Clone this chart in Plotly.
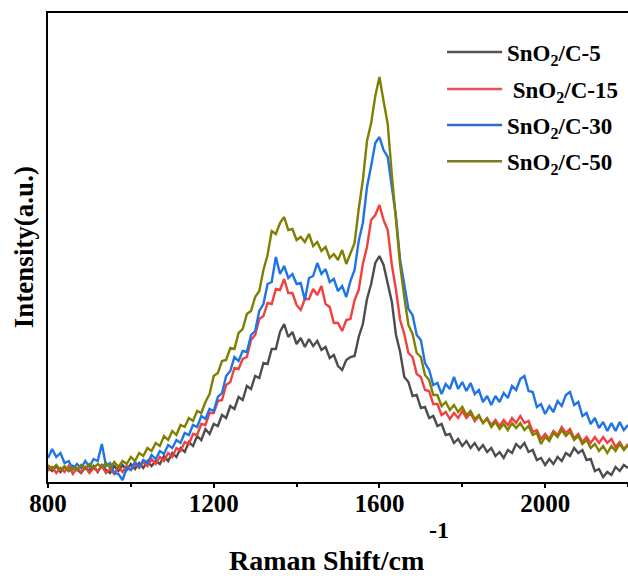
import plotly.graph_objects as go

# Raman shift (cm^-1), 800..2200 step 10
raman_shift = list(range(800, 2201, 10))

# Intensities (a.u.)
sno2_c5 = [15, 11, 16, 10, 15, 11, 16, 12, 9, 15, 11, 16, 10, 17, 12, 9, 16, 11, 17, 12,
           18, 13, 19, 14, 21, 16, 21, 18, 26, 21, 29, 25, 34, 30, 40, 36, 46, 42, 53, 48,
           58, 56, 67, 64, 76, 73, 85, 82, 96, 93, 106, 104, 119, 118, 133, 133, 150, 158, 145, 150,
           138, 144, 135, 143, 136, 141, 132, 135, 124, 127, 116, 112, 122, 125, 126, 145, 158, 183, 198, 219,
           226, 217, 197, 180, 147, 130, 105, 100, 86, 87, 74, 75, 64, 66, 56, 58, 47, 48, 39, 43,
           36, 41, 34, 39, 32, 37, 30, 34, 26, 30, 24, 32, 29, 38, 34, 39, 30, 32, 22, 24,
           17, 23, 18, 25, 21, 29, 26, 34, 29, 32, 22, 23, 11, 13, 5, 10, 7, 15, 11, 17, 14]

sno2_c15 = [11, 15, 9, 14, 10, 16, 8, 14, 10, 15, 9, 14, 11, 16, 9, 13, 8, 15, 10, 16,
            12, 18, 14, 20, 16, 23, 18, 25, 21, 29, 25, 34, 31, 40, 38, 48, 47, 58, 57, 69,
            69, 81, 82, 97, 100, 114, 113, 123, 125, 142, 147, 163, 166, 179, 178, 193, 192, 203, 189, 189,
            177, 172, 183, 183, 193, 187, 196, 178, 175, 159, 159, 151, 162, 163, 182, 192, 218, 235, 262, 267,
            277, 262, 252, 217, 192, 162, 148, 129, 125, 108, 105, 92, 91, 78, 78, 67, 70, 63, 69, 64,
            71, 64, 69, 61, 66, 59, 64, 57, 62, 56, 62, 57, 64, 59, 66, 59, 61, 50, 52, 43,
            48, 43, 51, 47, 55, 49, 53, 44, 48, 40, 45, 39, 45, 39, 45, 39, 43, 35, 40, 33, 38]

sno2_c30 = [24, 33, 25, 29, 19, 21, 13, 18, 14, 21, 15, 23, 21, 38, 16, 19, 9, 8, 2, 14,
            12, 20, 15, 22, 19, 27, 23, 31, 28, 37, 34, 42, 39, 49, 47, 57, 55, 66, 63, 73,
            71, 85, 89, 106, 111, 125, 121, 131, 130, 147, 151, 171, 178, 198, 200, 225, 208, 216, 204, 208,
            198, 199, 182, 204, 206, 219, 208, 213, 200, 203, 191, 196, 185, 201, 212, 241, 259, 295, 316, 339,
            345, 332, 325, 292, 265, 222, 198, 173, 167, 147, 142, 119, 112, 97, 99, 88, 98, 93, 105, 93,
            100, 91, 99, 88, 92, 80, 86, 77, 86, 80, 89, 84, 96, 92, 103, 106, 91, 90, 75, 78,
            68, 76, 70, 81, 76, 87, 90, 77, 80, 66, 69, 58, 64, 54, 60, 51, 59, 51, 60, 52, 57]

sno2_c50 = [17, 13, 17, 12, 16, 11, 15, 12, 17, 13, 18, 14, 18, 15, 19, 14, 20, 15, 21, 18,
            25, 21, 29, 26, 34, 31, 39, 36, 46, 42, 51, 47, 57, 55, 64, 61, 71, 69, 80, 88,
            106, 109, 121, 122, 134, 133, 149, 153, 168, 171, 185, 191, 212, 227, 251, 248, 259, 265, 252, 253,
            242, 245, 240, 248, 236, 240, 231, 235, 224, 228, 222, 232, 218, 228, 239, 273, 302, 341, 359, 386,
            405, 381, 358, 307, 265, 217, 185, 157, 148, 129, 125, 107, 102, 87, 87, 76, 80, 72, 77, 70,
            75, 67, 71, 63, 67, 59, 63, 55, 60, 53, 58, 52, 59, 54, 59, 52, 56, 47, 49, 38,
            45, 41, 49, 45, 52, 46, 50, 42, 46, 38, 42, 34, 38, 31, 36, 29, 36, 31, 38, 32, 37]

series_names = ["SnO<sub>2</sub>/C-5", " SnO<sub>2</sub>/C-15", "SnO<sub>2</sub>/C-30", "SnO<sub>2</sub>/C-50"]
series_values = [sno2_c5, sno2_c15, sno2_c30, sno2_c50]
line_colors = ["#4d4d4d", "#f23f3f", "#1f74e6", "#7f7f00"]
legend_colors = ["#555555", "#e8505a", "#2f6cc6", "#7a7a24"]

x_ticks = [800, 1200, 1600, 2000]

FONT = "Liberation Serif"

fig = go.Figure()
for name, vals, col in zip(series_names, series_values, line_colors):
    fig.add_trace(go.Scatter(x=raman_shift, y=vals, mode="lines", name=name,
                             line=dict(color=col, width=2.4), showlegend=False))

# legend drawn manually (long swatches like the reference)
leg_y = [0.917, 0.838, 0.761, 0.684]
for name, col, yy in zip(series_names, legend_colors, leg_y):
    fig.add_shape(type="line", xref="paper", yref="paper", x0=0.688, x1=0.783, y0=yy, y1=yy,
                  line=dict(color=col, width=2.5))
    fig.add_annotation(xref="paper", yref="paper", x=0.788, y=yy - 0.006, text=name,
                       showarrow=False, xanchor="left", yanchor="middle",
                       font=dict(family=FONT, size=23, color="black", weight="bold"))

# axis titles
fig.add_annotation(xref="paper", yref="paper", x=0.481, y=-0.167, text="Raman Shift/cm",
                   showarrow=False, xanchor="center", yanchor="middle",
                   font=dict(family=FONT, size=28, color="black", weight="bold"))
fig.add_annotation(xref="paper", yref="paper", x=0.674, y=-0.102, text="-1",
                   showarrow=False, xanchor="center", yanchor="middle",
                   font=dict(family=FONT, size=24, color="black", weight="bold"))
fig.add_annotation(xref="paper", yref="paper", x=-0.042, y=0.5, text="Intensity(a.u.)",
                   showarrow=False, xanchor="center", yanchor="middle", textangle=-90,
                   font=dict(family=FONT, size=27, color="black", weight="bold"))

fig.update_layout(
    width=628, height=579,
    margin=dict(l=48, r=0, t=13, b=97),
    paper_bgcolor="white", plot_bgcolor="white",
    showlegend=False,
)
fig.update_xaxes(range=[800, 2200], tickvals=x_ticks, ticks="outside", ticklen=4, tickwidth=2,
                 tickcolor="black", showline=True, linewidth=2, linecolor="black", mirror=True,
                 showgrid=False, zeroline=False, ticklabelstandoff=-6,
                 minor=dict(dtick=200, tick0=800, ticks="outside", ticklen=3, tickwidth=1.5, tickcolor="black"),
                 tickfont=dict(family=FONT, size=25, color="black", weight="bold"))
fig.update_yaxes(range=[0, 469], showticklabels=False, ticks="", showline=True, linewidth=2,
                 linecolor="black", mirror=False, showgrid=False, zeroline=False)

fig.write_html("out.html")
